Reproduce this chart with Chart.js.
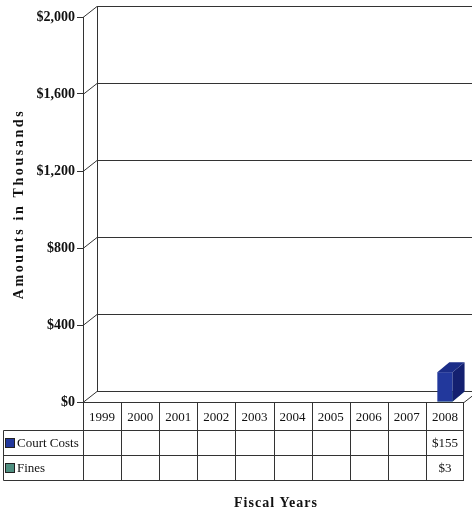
<!DOCTYPE html>
<html>
<head>
<meta charset="utf-8">
<script src="https://cdn.jsdelivr.net/npm/chart.js@4/dist/chart.umd.min.js"></script>
<style>
  html, body { margin: 0; padding: 0; background: #fff; }
  canvas { display: block; }
</style>
</head>
<body>
<canvas id="c" width="472" height="517"></canvas>
<script>
const categories = ['1999','2000','2001','2002','2003','2004','2005','2006','2007','2008'];
const courtCosts = [null, null, null, null, null, null, null, null, null, 155];
const fines      = [null, null, null, null, null, null, null, null, null, 3];
const courtCostLabels = ['', '', '', '', '', '', '', '', '', '$155'];
const fineLabels      = ['', '', '', '', '', '', '', '', '', '$3'];
const yTicks = [0, 400, 800, 1200, 1600, 2000];
const seriesNames = ['Court Costs', 'Fines'];
const yTitle = 'Amounts in Thousands';
const xTitle = 'Fiscal Years';

const LINE = '#333333';
const WALL_DX = 14, WALL_DY = -11;
const BAR_DX = 12, BAR_DY = -10;
const COURT = { front: '#22389c', top: '#1b2d88', side: '#142070' };
const FINES = { front: '#4f8f80', top: '#5fa090', side: '#3a6f62' };

function drawFaces(chart, di) {
  const { ctx } = chart;
  const meta = chart.getDatasetMeta(di);
  const col = di === 0 ? COURT : FINES;
  ctx.save();
  meta.data.forEach((bar, i) => {
    const v = chart.data.datasets[di].data[i];
    if (v === null || v === undefined) return;
    const p = bar.getProps(['x', 'y', 'base', 'width'], true);
    const x0 = p.x - p.width / 2, x1 = p.x + p.width / 2;
    const yt = p.y, yb = p.base;
    ctx.fillStyle = col.side;
    ctx.beginPath();
    ctx.moveTo(x1, yt); ctx.lineTo(x1 + BAR_DX, yt + BAR_DY);
    ctx.lineTo(x1 + BAR_DX, yb + BAR_DY); ctx.lineTo(x1, yb);
    ctx.closePath(); ctx.fill();
    ctx.fillStyle = col.top;
    ctx.beginPath();
    ctx.moveTo(x0, yt); ctx.lineTo(x1, yt);
    ctx.lineTo(x1 + BAR_DX, yt + BAR_DY); ctx.lineTo(x0 + BAR_DX, yt + BAR_DY);
    ctx.closePath(); ctx.fill();
  });
  ctx.restore();
}

const threeD = {
  id: 'threeD',
  beforeDatasetsDraw(chart) {
    const { ctx, chartArea: a, scales: { y } } = chart;
    ctx.save();
    ctx.strokeStyle = LINE;
    ctx.lineWidth = 1;
    ctx.beginPath();
    ctx.moveTo(a.left + WALL_DX + 0.5, y.getPixelForValue(2000) + WALL_DY);
    ctx.lineTo(a.left + WALL_DX + 0.5, y.getPixelForValue(0) + WALL_DY);
    yTicks.forEach(v => {
      const py = Math.round(y.getPixelForValue(v)) + 0.5;
      ctx.moveTo(a.left, py);
      ctx.lineTo(a.left + WALL_DX, py + WALL_DY);
      ctx.lineTo(a.right + WALL_DX + 20, py + WALL_DY);
    });
    const pb = Math.round(y.getPixelForValue(0)) + 0.5;
    ctx.moveTo(a.left, pb);
    ctx.lineTo(a.right, pb);
    ctx.lineTo(a.right + WALL_DX, pb + WALL_DY);
    ctx.stroke();
    ctx.restore();
    // Fines faces sit behind the Court Costs bar
    drawFaces(chart, 1);
  },
  afterDatasetsDraw(chart) {
    drawFaces(chart, 0);
  },
  afterDraw(chart) {
    const { ctx, chartArea: a, scales: { x } } = chart;
    ctx.save();
    const top = Math.round(a.bottom) + 0.5;
    const r1 = top + 28, r2 = r1 + 25, r3 = r2 + 25;
    const left0 = 3.5;
    const half = (x.getPixelForValue(1) - x.getPixelForValue(0)) / 2;
    ctx.strokeStyle = LINE;
    ctx.lineWidth = 1;
    ctx.beginPath();
    ctx.moveTo(a.left, top); ctx.lineTo(a.right, top);
    ctx.moveTo(left0, r1); ctx.lineTo(a.right, r1);
    ctx.moveTo(left0, r2); ctx.lineTo(a.right, r2);
    ctx.moveTo(left0, r3); ctx.lineTo(a.right, r3);
    ctx.moveTo(left0, r1); ctx.lineTo(left0, r3);
    categories.forEach((c, i) => {
      const xl = Math.round(x.getPixelForValue(i) - half) + 0.5;
      ctx.moveTo(xl, top); ctx.lineTo(xl, r3);
    });
    const xr = Math.round(a.right) - 0.5;
    ctx.moveTo(xr, top); ctx.lineTo(xr, r3);
    ctx.stroke();

    ctx.fillStyle = '#111';
    ctx.font = '13px "Liberation Serif"';
    ctx.textAlign = 'center';
    ctx.textBaseline = 'middle';
    categories.forEach((c, i) => {
      const cx = x.getPixelForValue(i);
      ctx.fillText(c, cx, (top + r1) / 2 + 1);
      ctx.fillText(courtCostLabels[i], cx, (r1 + r2) / 2 + 1);
      ctx.fillText(fineLabels[i], cx, (r2 + r3) / 2 + 1);
    });
    ctx.textAlign = 'left';
    [[seriesNames[0], COURT.front, (r1 + r2) / 2], [seriesNames[1], FINES.front, (r2 + r3) / 2]].forEach(([n, c, cy]) => {
      ctx.fillStyle = c;
      ctx.fillRect(6, cy - 4, 8, 8);
      ctx.strokeStyle = '#222';
      ctx.strokeRect(5.5, cy - 4.5, 9, 9);
      ctx.fillStyle = '#111';
      ctx.fillText(n, 17, cy + 1);
    });

    ctx.font = 'bold 14px "Liberation Serif"';
    ctx.fillStyle = '#111';
    ctx.textAlign = 'center';
    ctx.letterSpacing = '1px';
    ctx.fillText(xTitle, 276, 503);
    ctx.save();
    ctx.translate(19, 204);
    ctx.rotate(-Math.PI / 2);
    ctx.letterSpacing = '2.6px';
    ctx.fillText(yTitle, 0, 0);
    ctx.restore();
    ctx.restore();
  }
};

new Chart(document.getElementById('c'), {
  type: 'bar',
  data: {
    labels: categories,
    datasets: [
      { label: seriesNames[0], data: courtCosts, backgroundColor: COURT.front, grouped: false,
        categoryPercentage: 1, barPercentage: 0.4 },
      { label: seriesNames[1], data: fines, backgroundColor: FINES.front, grouped: false,
        categoryPercentage: 1, barPercentage: 0.4 }
    ]
  },
  options: {
    responsive: false,
    animation: false,
    devicePixelRatio: 1,
    layout: { padding: { left: 6, right: 8, top: 17, bottom: 115 } },
    plugins: { legend: { display: false }, tooltip: { enabled: false } },
    scales: {
      x: { display: false },
      y: {
        min: 0, max: 2000,
        afterFit(s) { s.width = 77; },
        afterBuildTicks(s) { s.ticks = yTicks.map(v => ({ value: v })); },
        ticks: {
          color: '#111',
          padding: 2,
          font: { family: '"Liberation Serif"', weight: 'bold', size: 14 },
          callback: v => '$' + v.toLocaleString('en-US')
        },
        grid: { drawOnChartArea: false, drawTicks: true, tickLength: 6, color: LINE },
        border: { display: true, color: LINE }
      }
    }
  },
  plugins: [threeD]
});
</script>
</body>
</html>
